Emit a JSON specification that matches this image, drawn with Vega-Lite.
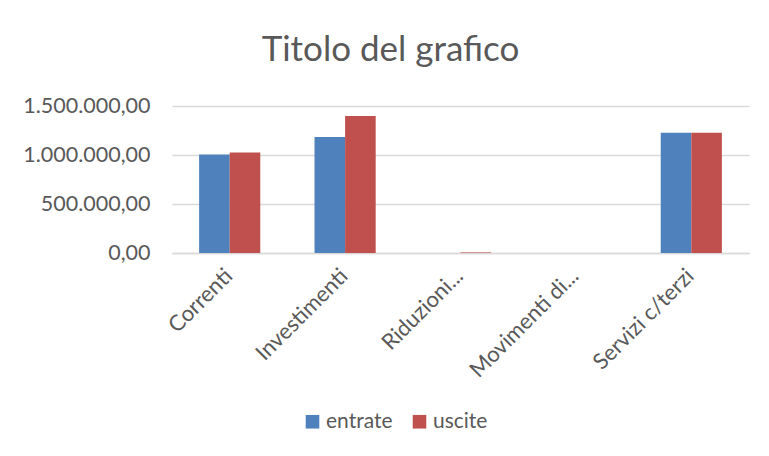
{
  "$schema": "https://vega.github.io/schema/vega-lite/v6.json",
  "width": 577,
  "height": 147,
  "autosize": {"type": "none"},
  "padding": {"left": 172, "top": 106, "right": 20, "bottom": 203},
  "background": "white",
  "config": {
    "locale": {"number": {"decimal": ",", "thousands": ".", "grouping": [3], "currency": ["€", ""]}},
    "view": {"stroke": null},
    "font": "Lato"
  },
  "title": {
    "text": "Titolo del grafico",
    "fontSize": 35,
    "font": "Lato",
    "fontWeight": "normal",
    "color": "#595959",
    "anchor": "middle",
    "dx": -70,
    "offset": 27
  },
  "data": {
    "values": [
      {"categoria": "Correnti", "serie": "entrate", "valore": 1005000},
      {"categoria": "Correnti", "serie": "uscite", "valore": 1025000},
      {"categoria": "Investimenti", "serie": "entrate", "valore": 1184000},
      {"categoria": "Investimenti", "serie": "uscite", "valore": 1398000},
      {"categoria": "Riduzioni...", "serie": "entrate", "valore": 0},
      {"categoria": "Riduzioni...", "serie": "uscite", "valore": 6000},
      {"categoria": "Movimenti di...", "serie": "entrate", "valore": 0},
      {"categoria": "Movimenti di...", "serie": "uscite", "valore": 0},
      {"categoria": "Servizi c/terzi", "serie": "entrate", "valore": 1227000},
      {"categoria": "Servizi c/terzi", "serie": "uscite", "valore": 1227000}
    ]
  },
  "mark": {"type": "bar"},
  "encoding": {
    "x": {
      "field": "categoria",
      "type": "nominal",
      "sort": null,
      "scale": {"paddingInner": 0.47, "paddingOuter": 0.235},
      "axis": {
        "title": null,
        "labelAngle": -45,
        "labelAlign": "right",
        "labelBaseline": "top",
        "labelFontSize": 22,
        "labelColor": "#595959",
        "labelPadding": 12,
        "labelOffset": -8,
        "ticks": false,
        "domainColor": "#d9d9d9",
        "domainWidth": 1.5
      }
    },
    "xOffset": {"field": "serie", "type": "nominal", "scale": {"paddingInner": 0}},
    "y": {
      "field": "valore",
      "type": "quantitative",
      "scale": {"domain": [0, 1500000], "nice": false},
      "axis": {
        "title": null,
        "values": [0, 500000, 1000000, 1500000],
        "format": ",.2f",
        "labelFontSize": 21.5,
        "labelColor": "#595959",
        "labelPadding": 22,
        "ticks": false,
        "domain": false,
        "gridColor": "#d9d9d9",
        "gridWidth": 1.5
      }
    },
    "color": {
      "field": "serie",
      "type": "nominal",
      "scale": {"domain": ["entrate", "uscite"], "range": ["#4F81BD", "#C0504D"]},
      "legend": {
        "title": null,
        "orient": "none",
        "direction": "horizontal",
        "legendX": 130,
        "legendY": 305,
        "symbolType": "square",
        "symbolSize": 185,
        "symbolStrokeWidth": 0,
        "labelFontSize": 21,
        "labelColor": "#595959",
        "columnPadding": 16,
        "labelOffset": 3
      }
    }
  }
}
